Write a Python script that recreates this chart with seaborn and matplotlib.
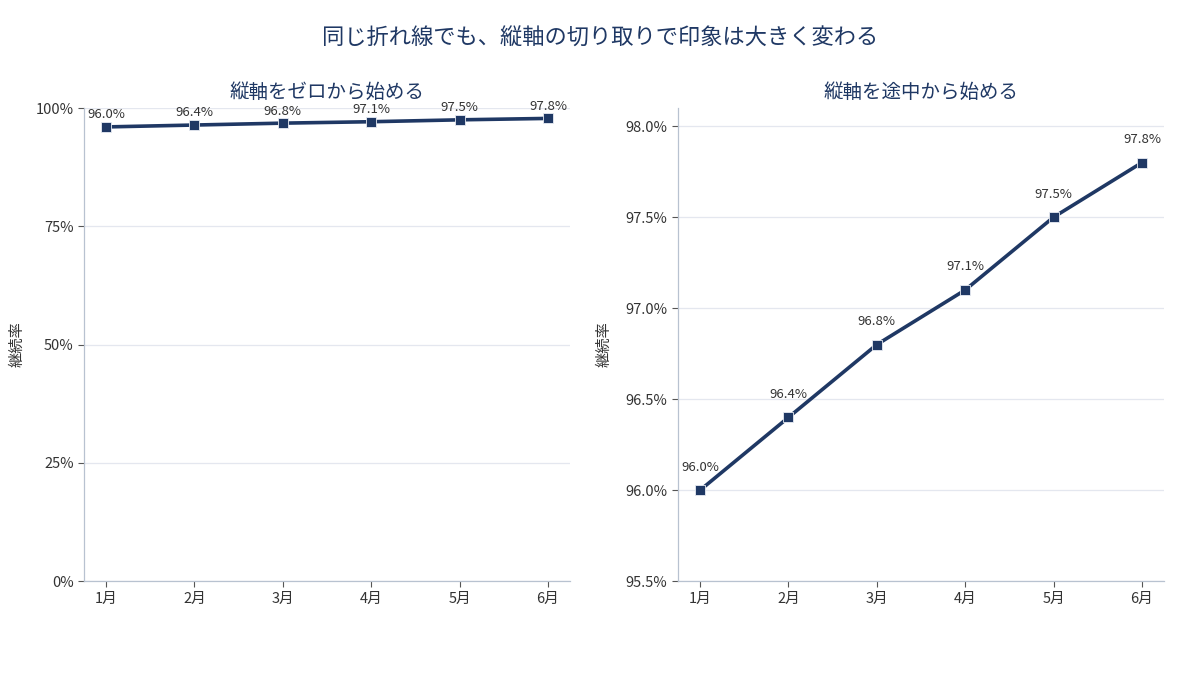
import numpy as np
import pandas as pd
import matplotlib
matplotlib.use("Agg")
import matplotlib.pyplot as plt
import seaborn as sns
from matplotlib.ticker import FuncFormatter

months = ['1月', '2月', '3月', '4月', '5月', '6月']
retention = [96.0, 96.4, 96.8, 97.1, 97.5, 97.8]
left_ticks = [0, 25, 50, 75, 100]
right_ticks = [95.5, 96.0, 96.5, 97.0, 97.5, 98.0]

NAVY = '#1f3864'
TEXT = '#333333'
SPINE = '#b8c2d0'
GRID = '#e4e7ef'

sns.set_theme(style='white')
plt.rcParams['font.family'] = ['Noto Sans CJK JP', 'DejaVu Sans']

df = pd.DataFrame({'month': months, 'rate': retention})

fig = plt.figure(figsize=(12, 6.75), dpi=100)
ax1 = fig.add_axes([0.07, 0.139, 0.405, 0.701])
ax2 = fig.add_axes([0.565, 0.139, 0.405, 0.701])

fig.suptitle('同じ折れ線でも、縦軸の切り取りで印象は大きく変わる', y=0.96, fontsize=16, color=NAVY)


def draw(ax, title, ylim, ticks, fmt, offset):
    sns.lineplot(data=df, x='month', y='rate', ax=ax, color=NAVY, linewidth=2.6,
                 marker='s', markersize=7, markeredgecolor='#e8ecf3', markeredgewidth=0.6,
                 sort=False)
    for i, v in enumerate(retention):
        ax.annotate(f'{v:.1f}%', (i, v), xytext=(0, offset), textcoords='offset points',
                    ha='center', va='bottom', fontsize=9.5, color=TEXT)
    ax.set_xlim(-0.25, 5.25)
    ax.set_ylim(*ylim)
    ax.set_yticks(ticks)
    ax.yaxis.set_major_formatter(FuncFormatter(fmt))
    ax.set_title(title, fontsize=14, color=NAVY, pad=7.5)
    ax.set_xlabel('')
    ax.set_ylabel('継続率', fontsize=11, color=TEXT)
    ax.grid(axis='y', color=GRID, linewidth=0.9)
    ax.set_axisbelow(True)
    for s in ['top', 'right']:
        ax.spines[s].set_visible(False)
    for s in ['left', 'bottom']:
        ax.spines[s].set_color(SPINE)
        ax.spines[s].set_linewidth(0.9)
    ax.tick_params(axis='both', colors=TEXT, labelsize=10.5, length=4, width=0.8,
                   direction='out', left=True, bottom=True)
    ax.tick_params(axis='both', color='#555555')


draw(ax1, '縦軸をゼロから始める', (0, 100), left_ticks, lambda v, p: f'{v:.0f}%', 4)
draw(ax2, '縦軸を途中から始める', (95.5, 98.1), right_ticks, lambda v, p: f'{v:.1f}%', 12)
ax1.yaxis.set_label_coords(-0.121, 0.5)
ax2.yaxis.set_label_coords(-0.134, 0.5)

fig.savefig('out.png', dpi=100)
